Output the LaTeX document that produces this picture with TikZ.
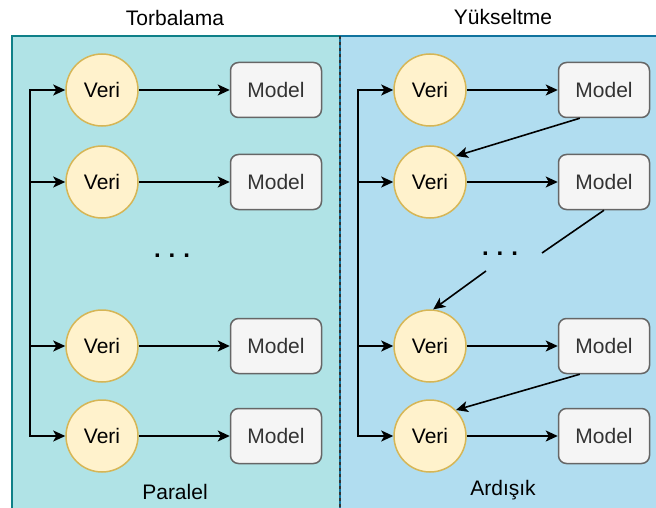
\documentclass[tikz,border=0pt]{standalone}
\usepackage{fontspec}
\setmainfont{Liberation Sans}
\usepackage{tikz}
\usetikzlibrary{arrows.meta}
\tikzset{>={Stealth[length=12pt,width=11pt,inset=3pt]}}
\definecolor{tealfill}{HTML}{B0E3E6}
\definecolor{tealline}{HTML}{0E8088}
\definecolor{bluefill}{HTML}{B1DDF0}
\definecolor{blueline}{HTML}{10739E}
\definecolor{verifill}{HTML}{FFF2CC}
\definecolor{veriline}{HTML}{D6B656}
\definecolor{modelfill}{HTML}{F5F5F5}
\definecolor{modelline}{HTML}{666666}
\definecolor{modeltext}{HTML}{333333}

\begin{document}
\begin{tikzpicture}[x=1pt, y=-1pt, font=\fontsize{21}{25}\selectfont,
    veri/.style={circle, draw=veriline, fill=verifill, line width=1.5pt, minimum size=72pt, inner sep=0pt},
    model/.style={rectangle, rounded corners=8pt, draw=modelline, fill=modelfill, line width=1.5pt,
                  minimum width=91pt, minimum height=55pt, inner sep=0pt, text=modeltext},
    flow/.style={->, line width=1.6pt},
    bus/.style={line width=1.6pt, line cap=rect},
    dots/.style={anchor=base, font=\fontsize{24}{28}\selectfont\bfseries}]

    \useasboundingbox (0,0) rectangle (656,508);

    % Panels
    \begin{scope}
        \clip (0,0) rectangle (656,508);
        \filldraw[fill=tealfill, draw=tealline, line width=1.5pt] (12,36) rectangle (340,520);
        \filldraw[fill=bluefill, draw=blueline, line width=1.5pt] (340,36) rectangle (670,520);
        \draw[dashed, line width=1.2pt, black!80] (340,36) -- (340,520);
    \end{scope}

    % Titles
    \node (ttorba) at (175,18) {Torbalama};
    \node (tyukse) at (503,17) {Yükseltme};
    \node (tpara) at (175,492) {Paralel};
    \node (tardi) at (503,490) {Ardışık};

    % Rows
    \foreach \r/\y in {1/90, 2/182, 3/346, 4/436}{
        \node[veri] (lv\r) at (102,\y) {Veri};
        \node[model] (lm\r) at (276,\y) {Model};
        \draw[flow] (lv\r) -- (lm\r);

        \node[veri] (rv\r) at (430,\y) {Veri};
        \node[model] (rm\r) at (604,\y) {Model};
        \draw[flow] (rv\r) -- (rm\r);
    }

    % Bus lines
    \coordinate (lbus) at (30,90);
    \coordinate (rbus) at (358,90);
    \draw[bus] (lbus |- lv1) -- (lbus |- lv4);
    \draw[bus] (rbus |- rv1) -- (rbus |- rv4);
    \foreach \r in {1,...,4}{
        \draw[flow] (lbus |- lv\r) -- (lv\r);
        \draw[flow] (rbus |- rv\r) -- (rv\r);
    }

    % Dots
    \node[dots] (ldots) at (172,257) {.\hspace{8pt}.\hspace{8pt}.};
    \node[dots] (rdots) at (500,255) {.\hspace{8pt}.\hspace{8pt}.};

    % Sequential links
    \coordinate (gap1) at (542,253);
    \coordinate (gap2) at (486,271);
    \draw[flow] ([xshift=22pt]rm1.south west) -- (rv2.45);
    \draw[line width=1.6pt] (rm2.south) -- (gap1);
    \draw[flow] (gap2) -- (rv3.85);
    \draw[flow] ([xshift=22pt]rm3.south west) -- (rv4.45);

\end{tikzpicture}
\end{document}
